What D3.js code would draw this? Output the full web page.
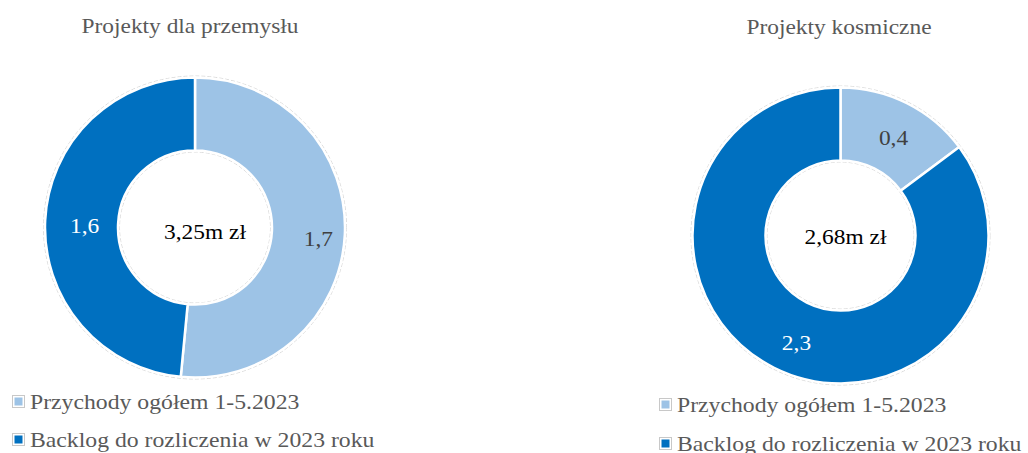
<!DOCTYPE html>
<html><head><meta charset="utf-8">
<script src="https://cdn.jsdelivr.net/npm/d3@7"></script>
<style>html,body{margin:0;padding:0;background:#fff;}svg{display:block;font-family:"Liberation Serif","Times New Roman",serif;}</style>
</head><body>
<svg id="c" width="1028" height="453"></svg>
<script>
const titles = ["Projekty dla przemysłu", "Projekty kosmiczne"];
const categories = ["Przychody ogółem 1-5.2023", "Backlog do rozliczenia w 2023 roku"];
const industryValues = [1.7, 1.6];
const spaceValues = [0.4, 2.3];
const totalLabels = ["3,25m zł", "2,68m zł"];
const colors = ["#9DC3E6", "#0070C0"];
const labelColors = ["#404040", "#ffffff"];

const charts = [
  {title: titles[0], values: industryValues, total: totalLabels[0], cx: 195, cy: 227.5, r: 150, ir: 77, titleX: 190, titleY: 33, legendX: 12, legendY: 402, legendGap: 38, centerX: 205, centerY: 11, labelOff: [[10, 13], [3, 11]]},
  {title: titles[1], values: spaceValues, total: totalLabels[1], cx: 840.5, cy: 235.5, r: 148, ir: 75, titleX: 839, titleY: 34, legendX: 659, legendY: 405, legendGap: 39, centerX: 845.5, centerY: 8, labelOff: [[3, 9], [6, 15]]}
];

const SX = 1.17;   // horizontal stretch of the reference's serif text
const svg = d3.select("#c");
const fmt = v => d3.format(".1f")(v).replace(".", ",");

function stretchedText(parent, x, y, size, fill, txt, anchor, sx) {
  return parent.append("text")
    .attr("transform", `translate(${x},${y}) scale(${sx},1)`)
    .attr("text-anchor", anchor).attr("font-size", size).attr("fill", fill).text(txt);
}

charts.forEach(ch => {
  const g = svg.append("g").attr("transform", `translate(${ch.cx},${ch.cy})`);
  const pie = d3.pie().sort(null).value(d => d)(ch.values);
  const arc = d3.arc().innerRadius(ch.ir).outerRadius(ch.r);
  g.append("circle").attr("r", ch.r + 1.5).attr("fill", "none").attr("stroke", "#d0d0d0").attr("stroke-width", 0.8).attr("stroke-dasharray", "4,2");
  g.append("circle").attr("r", ch.ir - 1.5).attr("fill", "none").attr("stroke", "#d0d0d0").attr("stroke-width", 0.8).attr("stroke-dasharray", "4,2");
  g.selectAll("path.s").data(pie).join("path").attr("class", "s")
    .attr("d", arc).attr("fill", (d, i) => colors[i])
    .attr("stroke", "#fff").attr("stroke-width", 2.5);
  pie.forEach((d, i) => {
    const c = arc.centroid(d);
    stretchedText(g, c[0] + ch.labelOff[i][0], c[1] + ch.labelOff[i][1], 20, labelColors[i], fmt(d.data), "middle", SX);
  });
  stretchedText(svg, ch.centerX, ch.cy + ch.centerY, 20, "#000", ch.total, "middle", SX);
  stretchedText(svg, ch.titleX, ch.titleY, 20, "#595959", ch.title, "middle", SX);
  const lg = svg.append("g").attr("transform", `translate(${ch.legendX},${ch.legendY})`);
  categories.forEach((c, i) => {
    const y = i * ch.legendGap;
    lg.append("rect").attr("x", 0.5).attr("y", y - 6.5).attr("width", 12).attr("height", 12).attr("fill", "#fff").attr("stroke", "#c8c8c8").attr("stroke-width", 1);
    lg.append("rect").attr("x", 2.5).attr("y", y - 4.5).attr("width", 8).attr("height", 8).attr("fill", colors[i]);
    stretchedText(lg, 18, y + 7, 21, "#595959", c, "start", 1.13);
  });
});
</script>
</body></html>
